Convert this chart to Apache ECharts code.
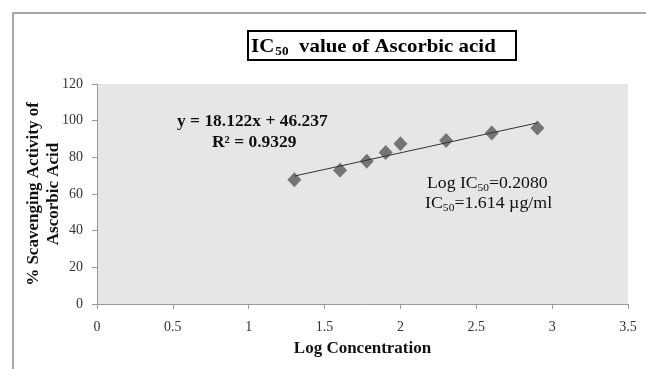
<!DOCTYPE html>
<html>
<head>
<meta charset="utf-8">
<script src="https://cdn.jsdelivr.net/npm/echarts@6/dist/echarts.min.js"></script>
<style>
html,body{margin:0;padding:0;background:#fff;}
#chart{width:646px;height:369px;}
</style>
</head>
<body>
<div id="chart"></div>
<script>
// Data
var logConcentration = [1.301, 1.602, 1.778, 1.903, 2.0, 2.301, 2.602, 2.903];
var scavenging = [67.8, 72.9, 77.8, 82.7, 87.4, 89.2, 93.3, 96.0];
var trendX = [1.301, 2.903];
var trendY = [69.8, 98.8];
var xTicks = { min: 0, max: 3.5, interval: 0.5 };
var yTicks = { min: 0, max: 120, interval: 20 };

var serif = '"Liberation Serif", "DejaVu Serif", serif';

var chart = echarts.init(document.getElementById('chart'), null, { renderer: 'canvas' });

var pts = logConcentration.map(function (x, i) { return [x, scavenging[i]]; });
var trend = trendX.map(function (x, i) { return [x, trendY[i]]; });

var option = {
  animation: false,
  backgroundColor: '#ffffff',
  grid: {
    left: 97, right: 18, top: 84, bottom: 65,
    show: true, backgroundColor: '#e6e6e6', borderWidth: 0
  },
  xAxis: {
    type: 'value',
    min: xTicks.min, max: xTicks.max, interval: xTicks.interval,
    name: 'Log Concentration',
    nameLocation: 'middle', nameGap: 36, nameMoveOverlap: false,
    nameTextStyle: { fontFamily: serif, fontWeight: 'bold', fontSize: 17, color: '#111' },
    axisLine: { show: true, lineStyle: { color: '#9a9a9a', width: 1 } },
    axisTick: { show: true, length: 5, lineStyle: { color: '#9a9a9a' } },
    axisLabel: { fontFamily: serif, fontSize: 14, color: '#333', margin: 16 },
    splitLine: { show: false }
  },
  yAxis: {
    type: 'value',
    min: yTicks.min, max: yTicks.max, interval: yTicks.interval,
    name: '% Scavenging Activity of\nAscorbic Acid',
    nameLocation: 'middle', nameGap: 33, nameMoveOverlap: false,
    nameTextStyle: { fontFamily: serif, fontWeight: 'bold', fontSize: 17, color: '#111', lineHeight: 20 },
    axisLine: { show: true, lineStyle: { color: '#9a9a9a', width: 1 } },
    axisTick: { show: true, length: 5, lineStyle: { color: '#9a9a9a' } },
    axisLabel: { fontFamily: serif, fontSize: 14, color: '#333', margin: 14 },
    splitLine: { show: false }
  },
  series: [
    {
      type: 'scatter',
      data: pts,
      symbol: 'diamond',
      symbolSize: [14, 15],
      itemStyle: { color: '#595959' },
      z: 2
    },
    {
      type: 'line',
      data: trend,
      symbol: 'none',
      lineStyle: { color: '#333', width: 1 },
      z: 3
    }
  ],
  graphic: [
    {
      type: 'rect', silent: true,
      shape: { x: 13, y: 13, width: 700, height: 400 },
      style: { fill: 'none', stroke: '#8c8c8c', lineWidth: 1.5 },
      z: -10
    },
    {
      type: 'rect', silent: true,
      shape: { x: 248, y: 31, width: 268, height: 29 },
      style: { fill: '#fff', stroke: '#000', lineWidth: 2 }
    },
    {
      type: 'text', silent: true,
      x: 251, y: 36, scaleX: 1.1,
      style: {
        text: '{a|IC}{s|50}{a|  value of Ascorbic acid}',
        rich: {
          a: { fontFamily: serif, fontWeight: 'bold', fontSize: 19, lineHeight: 22, fill: '#000' },
          s: { fontFamily: serif, fontWeight: 'bold', fontSize: 12, lineHeight: 12, padding: [6, 0, 0, 1], verticalAlign: 'bottom', fill: '#000' }
        }
      }
    },
    {
      type: 'text', silent: true,
      x: 177, y: 114, scaleX: 1.09,
      style: {
        text: 'y = 18.122x + 46.237',
        fontFamily: serif, fontWeight: 'bold', fontSize: 16, fill: '#111'
      }
    },
    {
      type: 'text', silent: true,
      x: 212, y: 135, scaleX: 1.09,
      style: {
        text: 'R\u00b2 = 0.9329',
        fontFamily: serif, fontWeight: 'bold', fontSize: 16, fill: '#111'
      }
    },
    {
      type: 'text', silent: true,
      x: 427, y: 174, scaleX: 1.04,
      style: {
        text: '{a|Log IC}{s|50}{a|=0.2080}',
        rich: {
          a: { fontFamily: serif, fontSize: 17, lineHeight: 20, fill: '#111' },
          s: { fontFamily: serif, fontSize: 11, lineHeight: 11, padding: [7, 0, 0, 0], verticalAlign: 'bottom', fill: '#111' }
        }
      }
    },
    {
      type: 'text', silent: true,
      x: 425, y: 194, scaleX: 1.05,
      style: {
        text: '{a|IC}{s|50}{a|=1.614 \u00b5g/ml}',
        rich: {
          a: { fontFamily: serif, fontSize: 17, lineHeight: 20, fill: '#111' },
          s: { fontFamily: serif, fontSize: 11, lineHeight: 11, padding: [7, 0, 0, 0], verticalAlign: 'bottom', fill: '#111' }
        }
      }
    }
  ]
};
chart.setOption(option);
</script>
</body>
</html>
